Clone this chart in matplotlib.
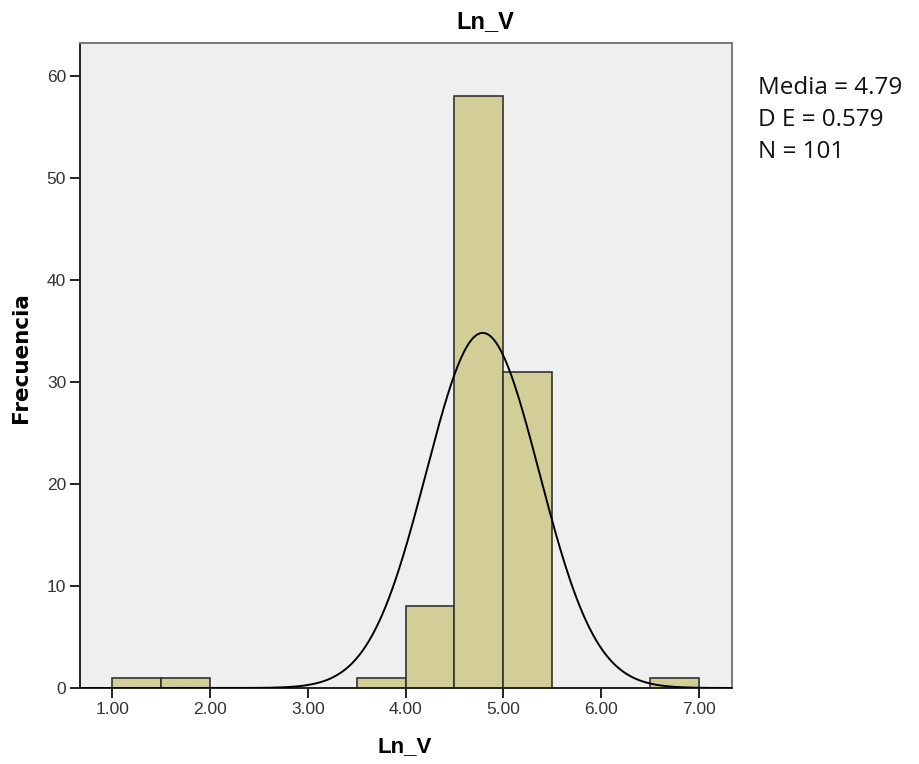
import matplotlib
matplotlib.use("Agg")
import matplotlib.pyplot as plt
import numpy as np

# ── Data ────────────────────────────────────────────────────────────────────
bin_edges = [1.0, 1.5, 2.0, 2.5, 3.0, 3.5, 4.0, 4.5, 5.0, 5.5, 6.0, 6.5, 7.0]
counts = [1, 1, 0, 0, 0, 1, 8, 58, 31, 0, 0, 1]
mean, sd, n = 4.79, 0.579, 101
x_ticks = [1.0, 2.0, 3.0, 4.0, 5.0, 6.0, 7.0]
y_ticks = [0, 10, 20, 30, 40, 50, 60]

C_BAR = "#d3ce98"
C_BG = "#efefef"
C_EDGE = "#333333"

fig = plt.figure(figsize=(9.2, 7.64), dpi=100)
ax = fig.add_axes([80 / 920, 76 / 764, 652 / 920, 645 / 764])
ax.set_facecolor(C_BG)

lefts = np.array(bin_edges[:-1])
widths = np.diff(bin_edges)
ax.bar(lefts, counts, width=widths, align="edge", color=C_BAR,
       edgecolor=C_EDGE, linewidth=1.2, zorder=2)

# normal curve scaled to counts
xs = np.linspace(0.67, 7.34, 400)
bw = 0.5
ys = n * bw / (sd * np.sqrt(2 * np.pi)) * np.exp(-0.5 * ((xs - mean) / sd) ** 2)
ax.plot(xs, ys, color="black", lw=1.4, zorder=3)

ax.set_xlim(0.67, 7.34)
ax.set_ylim(0, 63.2)
ax.set_xticks(x_ticks)
ax.set_xticklabels([f"{t:.2f}" for t in x_ticks])
ax.set_yticks(y_ticks)

for s in ["left", "bottom"]:
    ax.spines[s].set_color("#222222")
    ax.spines[s].set_linewidth(1.4)
for s in ["top", "right"]:
    ax.spines[s].set_color("#777777")
    ax.spines[s].set_linewidth(1.4)

ax.tick_params(direction="out", length=7, width=1.4, color="#222222",
               labelsize=12.5, labelcolor="#333333", pad=3)
for lbl in ax.get_xticklabels() + ax.get_yticklabels():
    lbl.set_family("Liberation Sans")

# title sits right of the axes centre in the source
fig.text(485 / 920, 1 - 22 / 764, "Ln_V", fontsize=17, fontweight="bold",
         family="Liberation Sans", ha="center", va="center")
fig.text(405 / 920, 1 - 747 / 764, "Ln_V", fontsize=16, fontweight="bold",
         family="Liberation Sans", ha="center", va="center")
fig.text(21 / 920, 1 - 358 / 764, "Frecuencia", fontsize=15.5,
         fontweight="bold", family="DejaVu Sans", rotation=90,
         ha="center", va="center")

stats = [f"Media = {mean:.2f}", f"D E = {sd:.3f}", f"N = {n}"]
for i, line in enumerate(stats):
    fig.text(758 / 920, 1 - (88 + 32 * i) / 764, line, fontsize=17.5,
             family="Open Sans", ha="left", va="center", color="#111111")

fig.savefig("out.png", dpi=100)
